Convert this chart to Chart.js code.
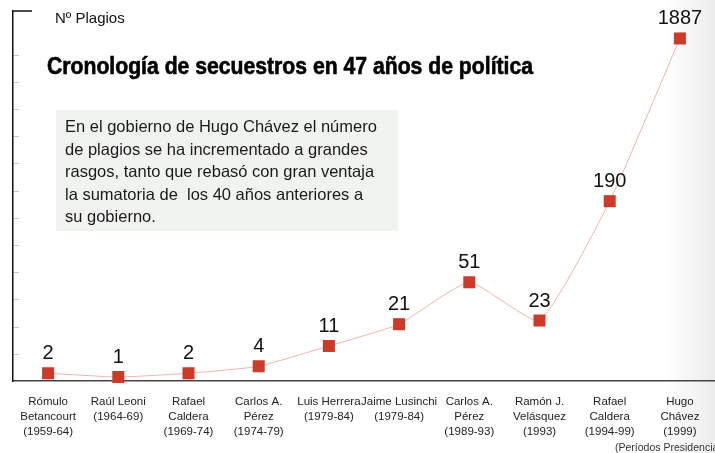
<!DOCTYPE html>
<html>
<head>
<meta charset="utf-8">
<script src="https://cdn.jsdelivr.net/npm/chart.js@4.4.1/dist/chart.umd.min.js"></script>
<style>
  html, body { margin: 0; padding: 0; }
  body { background: linear-gradient(to right, #fff 0%, #fff 93%, #ececec 100%); }
  #wrap { position: relative; width: 715px; height: 453px; }
</style>
</head>
<body>
<div id="wrap"><canvas id="myChart"></canvas></div>
<script>
// presidents (name lines) and their periods
var names = [
  ["Rómulo", "Betancourt"],
  ["Raúl Leoni"],
  ["Rafael", "Caldera"],
  ["Carlos A.", "Pérez"],
  ["Luis Herrera"],
  ["Jaime Lusinchi"],
  ["Carlos A.", "Pérez"],
  ["Ramón J.", "Velásquez"],
  ["Rafael", "Caldera"],
  ["Hugo", "Chávez"]
];
var periods = ["(1959-64)", "(1964-69)", "(1969-74)", "(1974-79)", "(1979-84)",
               "(1979-84)", "(1989-93)", "(1993)", "(1994-99)", "(1999)"];
var plagios = [2, 1, 2, 4, 11, 21, 51, 23, 190, 1887];

var title = "Cronología de secuestros en 47 años de política";
var yTitle = "Nº Plagios";
var note = [
  "En el gobierno de Hugo Chávez el número",
  "de plagios se ha incrementado a grandes",
  "rasgos, tanto que rebasó con gran ventaja",
  "la sumatoria de  los 40 años anteriores a",
  "su gobierno."
];
var footNote = "(Períodos Presidenciales)";

var labels = names.map(function (n, i) { return n.concat([periods[i]]); });

// symmetric-log style scale: position ~ ln(1 + v / C)
var SYMLOG_C = 18;
class SymlogScale extends Chart.LinearScale {
  _tr(v) { return Math.log(1 + Math.max(v, 0) / SYMLOG_C); }
  getPixelForValue(value) {
    if (value === null || value === undefined) return NaN;
    var a = this._tr(this.min), b = this._tr(this.max);
    return this.getPixelForDecimal((this._tr(value) - a) / (b - a));
  }
  getValueForPixel(pixel) {
    var a = this._tr(this.min), b = this._tr(this.max);
    var u = a + this.getDecimalForPixel(pixel) * (b - a);
    return (Math.exp(u) - 1) * SYMLOG_C;
  }
}
SymlogScale.id = 'symlog';
SymlogScale.defaults = {};
Chart.register(SymlogScale);

Chart.defaults.font.family = "'Liberation Sans', Arial, sans-serif";
Chart.defaults.color = '#222';

var decorations = {
  id: 'decorations',
  afterDraw: function (chart) {
    var ctx = chart.ctx;
    var area = chart.chartArea;
    ctx.save();

    // small marks on the inside of the vertical axis + top stub
    ctx.strokeStyle = '#c8c8c8';
    ctx.lineWidth = 1;
    for (var y = area.bottom - 27.2; y > area.top + 30; y -= 27.2) {
      ctx.beginPath();
      ctx.moveTo(area.left + 1, Math.round(y) + 0.5);
      ctx.lineTo(area.left + 6, Math.round(y) + 0.5);
      ctx.stroke();
    }
    ctx.strokeStyle = '#111';
    ctx.lineWidth = 1.5;
    ctx.beginPath();
    ctx.moveTo(area.left - 0.75, area.top);
    ctx.lineTo(area.left + 19, area.top);
    ctx.stroke();

    // axis caption
    ctx.fillStyle = '#111';
    ctx.font = "15px 'Liberation Sans', Arial";
    ctx.textBaseline = 'alphabetic';
    ctx.textAlign = 'left';
    ctx.fillText(yTitle, 55, 23);

    // title
    ctx.font = "bold 23px 'Liberation Sans', Arial";
    ctx.strokeStyle = '#000';
    ctx.lineWidth = 0.6;
    ctx.fillStyle = '#000';
    ctx.fillText(title, 47, 74, 486);
    ctx.strokeText(title, 47, 74, 486);

    // note box
    ctx.fillStyle = '#f1f3f1';
    ctx.fillRect(56, 110, 342, 121);
    ctx.fillStyle = '#1a1a1a';
    ctx.font = "16.5px 'Liberation Sans', Arial";
    note.forEach(function (line, i) {
      ctx.fillText(line, 65, 132 + i * 22.5, 318);
    });

    // value labels above the markers
    var meta = chart.getDatasetMeta(0);
    ctx.fillStyle = '#111';
    ctx.font = "20px 'Liberation Sans', Arial";
    ctx.textAlign = 'center';
    meta.data.forEach(function (pt, i) {
      ctx.fillText(String(plagios[i]), pt.x, pt.y - 14);
    });

    // footnote
    ctx.textAlign = 'left';
    ctx.fillStyle = '#333';
    ctx.font = "10.5px 'Liberation Sans', Arial";
    ctx.fillText(footNote, 615, 451);
    ctx.restore();
  }
};

var ctx = document.getElementById("myChart").getContext('2d');
var myChart = new Chart(ctx, {
  type: 'line',
  data: {
    labels: labels,
    datasets: [{
      data: plagios,
      borderColor: '#f2b3aa',
      borderWidth: 1,
      tension: 0.15,
      pointStyle: 'rect',
      pointRadius: 8.5,
      pointHoverRadius: 8.5,
      pointBorderWidth: 0,
      pointBackgroundColor: '#cc3a2a',
      pointBorderColor: '#cc3a2a',
      clip: false
    }]
  },
  options: {
    responsive: true,
    maintainAspectRatio: false,
    animation: false,
    layout: { autoPadding: false, padding: { left: 5, top: 11, right: 0, bottom: 9 } },
    plugins: {
      legend: { display: false },
      tooltip: { enabled: false }
    },
    scales: {
      x: {
        offset: true,
        grid: { display: false },
        border: { display: true, color: '#444', width: 1.5 },
        ticks: {
          autoSkip: false,
          maxRotation: 0,
          padding: 5,
          color: '#222',
          font: { size: 11.5, lineHeight: '15px' }
        }
      },
      y: {
        type: 'symlog',
        min: 0,
        max: 2750,
        grid: { display: false },
        border: { display: true, color: '#111', width: 1.5 },
        ticks: { display: false }
      }
    }
  },
  plugins: [decorations]
});
</script>
</body>
</html>
